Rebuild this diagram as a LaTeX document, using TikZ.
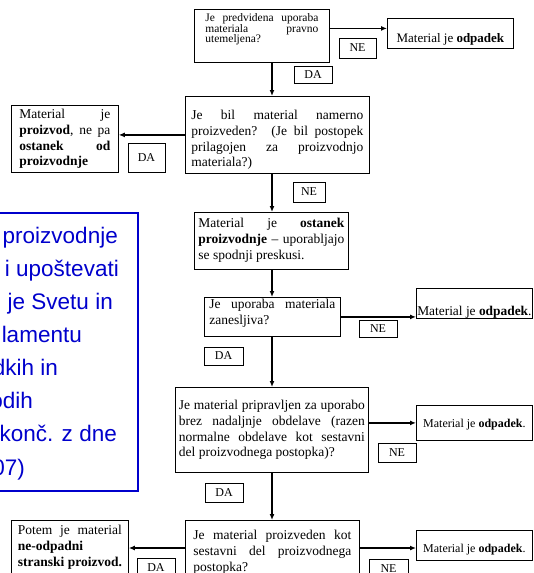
\documentclass[tikz,border=0pt]{standalone}
\usepackage{fontspec}
\setmainfont{Liberation Serif}
\newfontfamily\arialfont{Liberation Sans}
\usetikzlibrary{arrows.meta,positioning}
\definecolor{slblue}{RGB}{0,0,204}
\newcommand{\qfont}{\fontsize{13.5}{15.8}\selectfont\hyphenpenalty=10000\exhyphenpenalty=10000}
\newcommand{\qsmall}{\fontsize{11.5}{10.6}\selectfont\hyphenpenalty=10000}
\newcommand{\lfont}{\fontsize{12}{12}\selectfont}

\begin{document}
\begin{tikzpicture}[x=1pt,y=-1pt,
    qbox/.style={draw, line width=0.8pt, anchor=north west, inner ysep=0pt, align=justify, font=\qfont},
    rbox/.style={draw, line width=0.8pt, anchor=north west, inner sep=0pt, align=center},
    lbl/.style={draw, line width=0.6pt, inner sep=0pt, font=\lfont},
    note/.style={inner sep=0pt, anchor=base east, text=slblue, font=\arialfont\fontsize{22.5}{22.5}\selectfont},
    flow/.style={-{Latex[length=6pt,width=5pt]}, line width=1.6pt}]
    \useasboundingbox (0,0) rectangle (533,573);
    \clip (0,0) rectangle (533,573);
    \coordinate (spine) at (272,0);
    \coordinate (row6) at (0,548);

    % Decision boxes along the main line
    \node[qbox, font=\qsmall, inner xsep=11pt, text width=113pt, text height=12pt, text depth=41pt] (q1) at (194,9)
        {Je predvidena uporaba\linebreak materiala pravno\linebreak utemeljena?};
    \node[qbox, inner xsep=6pt, text width=172pt, text height=23pt, text depth=54pt] (q2) at (185,96)
        {Je bil material namerno\linebreak proizveden? (Je bil postopek\linebreak prilagojen za proizvodnjo\linebreak materiala?)};
    \node[qbox, inner xsep=4pt, text width=146pt, text height=15pt, text depth=42pt] (q3) at (194,212)
        {Material je \textbf{ostanek}\linebreak \textbf{proizvodnje}~--~uporabljajo\linebreak se spodnji preskusi.};
    \node[qbox, inner xsep=5pt, text width=126pt, text height=11pt, text depth=28pt] (q4) at (204,297)
        {Je uporaba materiala\linebreak zanesljiva?};
    \node[qbox, inner xsep=3.5pt, text width=186pt, text height=22pt, text depth=63pt] (q5) at (175,387)
        {Je material pripravljen za uporabo\linebreak brez nadaljnje obdelave (razen\linebreak normalne obdelave kot sestavni\linebreak del proizvodnega postopka)?};
    \node[qbox, inner xsep=8pt, text width=158pt, text height=19pt, text depth=51pt] (q6) at (185,520)
        {Je material proizveden kot\linebreak sestavni del proizvodnega\linebreak postopka?};

    % Outcome boxes
    \node[qbox, inner xsep=8pt, text width=91pt, text height=13pt, text depth=54pt] (p1) at (11,105)
        {Material je\linebreak \textbf{proizvod}, ne pa\linebreak \textbf{ostanek od}\linebreak \textbf{proizvodnje}};
    \node[qbox, inner xsep=6.5pt, text width=104pt, text height=14pt, text depth=56pt] (p2) at (11,520)
        {Potem je material\linebreak \textbf{ne-odpadni}\linebreak \textbf{stranski~proizvod.}};
    \node[rbox, font=\fontsize{13}{13}\selectfont, minimum width=126pt, text height=24pt, text depth=6pt] (w1) at (387,18)
        {Material je \textbf{odpadek}};
    \node[rbox, font=\fontsize{13.4}{13.4}\selectfont, minimum width=116pt, text height=27pt, text depth=3pt] (w2) at (416,288)
        {Material je \textbf{odpadek}.};
    \node[rbox, font=\fontsize{12}{12}\selectfont, minimum width=116pt, text height=22pt, text depth=13pt] (w3) at (416,405)
        {Material je \textbf{odpadek}.};
    \node[rbox, font=\fontsize{12}{12}\selectfont, minimum width=116pt, text height=22pt, text depth=8pt] (w4) at (416,530)
        {Material je \textbf{odpadek}.};

    % DA / NE tags
    \foreach \name/\x/\y/\w/\h/\txt in {
        ne1/357.5/48/37pt/20pt/NE,
        da1/313/74.5/38pt/17pt/DA,
        da2/146.5/157.5/37pt/29pt/DA,
        ne2/309/192/32pt/20pt/NE,
        ne3/378/328.5/38pt/17pt/NE,
        da3/223.5/356/39pt/18pt/DA,
        ne4/397/452.5/38pt/19pt/NE,
        da4/224/492.5/38pt/19pt/DA,
        ne5/388.5/569/39pt/20pt/NE,
        da5/156/568/38pt/20pt/DA
    } {
        \node[lbl, minimum width=\w, minimum height=\h] (\name) at (\x,\y) {\txt};
    }

    % Connectors
    \foreach \a/\b in {q1/q2,q2/q3,q3/q4,q4/q5,q5/q6}
        \draw[flow] (\a.south -| spine) -- (\b.north -| spine);
    \draw[flow] ([yshift=7.5pt]q1.east) -- ([yshift=7.5pt]q1.east -| w1.west);
    \draw[flow] (q2.west) -- (q2.west -| p1.east);
    \draw[flow] (q4.east) -- (q4.east -| w2.west);
    \draw[flow] (q5.east |- w3.west) -- (w3.west);
    \draw[flow] (q6.east |- row6) -- (w4.west |- row6);
    \draw[flow] (q6.west |- row6) -- (p2.east |- row6);

    % Blue note, cut at the left edge
    \draw[slblue, line width=1.8pt] (-20,213) rectangle (138,491);
    \foreach \i/\xr/\frag in {
        0/118/proizvodnje,
        1/119/i upoštevati,
        2/113/je Svetu in,
        3/82/lamentu,
        4/58/dkih in,
        5/33/odih,
        6/117/konč. z dne,
        7/25/{07)}
    } {
        \node[note] (n\i) at (\xr,{243+33.15*\i}) {\frag};
    }
\end{tikzpicture}
\end{document}
